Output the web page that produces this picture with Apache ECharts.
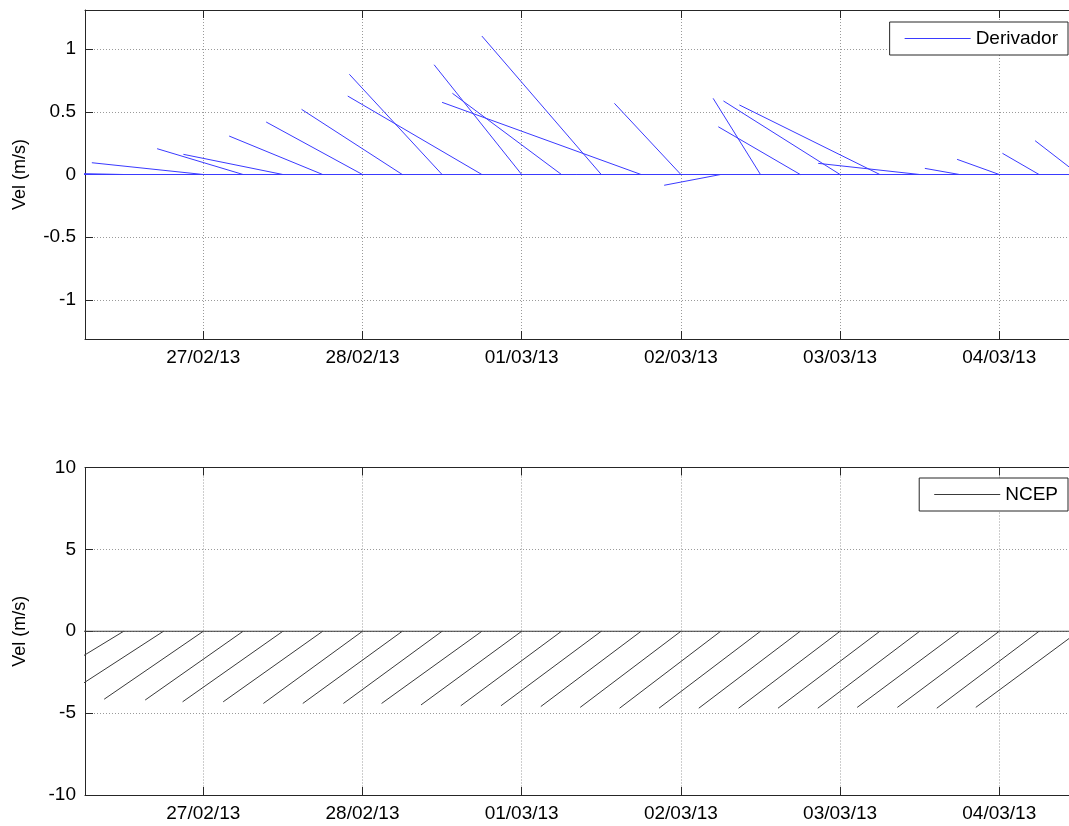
<!DOCTYPE html>
<html>
<head>
<meta charset="utf-8">
<script src="https://cdn.jsdelivr.net/npm/echarts@6/dist/echarts.min.js"></script>
<style>
html,body{margin:0;padding:0;background:#fff;}
#chart{width:1069px;height:826px;}
</style>
</head>
<body>
<div id="chart"></div>
<script>
// Sample times, hours relative to 27/02/13 00:00 (6-hourly)
const timesH = [-18,-12,-6,0,6,12,18,24,30,36,42,48,54,60,66,72,78,84,90,96,102,108,114,120,126,132];
// Drifter ("Derivador") stick components: u in plot step units (6 h), v in m/s
const derivU = [0,-1.2,0,-2.80,-2.16,-2.50,-2.35,-2.42,-2.53,-2.33,-3.37,-2.20,-2.74,-3.00,-5.00,-1.67,-1.42,-1.19,-2.06,-2.93,-3.53,-2.55,-0.87,-1.06,-0.92,-1.10];
const derivV = [0,0.008,0,0.094,0.206,0.161,0.307,0.419,0.520,0.800,0.626,0.876,0.648,1.105,0.576,0.568,-0.086,0.608,0.381,0.587,0.555,0.089,0.049,0.121,0.169,0.270];
// NCEP wind stick components
const ncepU = [-2.45,-2.50,-2.50,-2.49,-2.46,-2.52,-2.50,-2.49,-2.50,-2.48,-2.52,-2.53,-2.53,-2.52,-2.52,-2.53,-2.54,-2.55,-2.55,-2.55,-2.56,-2.56,-2.57,-2.56,-2.57,-2.59];
const ncepV = [-3.50,-3.70,-3.94,-4.15,-4.20,-4.31,-4.31,-4.41,-4.41,-4.41,-4.41,-4.50,-4.55,-4.55,-4.60,-4.65,-4.70,-4.70,-4.70,-4.70,-4.70,-4.70,-4.65,-4.65,-4.70,-4.65];
// Date ticks (days after 27/02/13 00:00) and their labels
const dateTicks = [0,1,2,3,4,5];
const dateLabels = ['27/02/13','28/02/13','01/03/13','02/03/13','03/03/13','04/03/13'];
const topYTicks = [-1,-0.5,0,0.5,1];
const botYTicks = [-10,-5,0,5,10];

const stepDays = 0.25;
// visible part of the time axis (the right side of the original figure is cropped)
const xMin = -0.743, xMax = 5.438;
const FONT = '"Liberation Sans", Arial, Helvetica, sans-serif';
const FS = 19;

function sticks(u, v) {
  const d = [];
  const t0 = timesH[0] / 24, t1 = timesH[timesH.length - 1] / 24;
  d.push([t0, 0], [t1, 0], ['-', '-']);
  for (let i = 0; i < timesH.length; i++) {
    const t = timesH[i] / 24;
    d.push([t, 0], [t + u[i] * stepDays, v[i]], ['-', '-']);
  }
  return d;
}

const chart = echarts.init(document.getElementById('chart'), null, {renderer: 'canvas'});

const gridLine = {show: true, lineStyle: {color: '#9a9a9a', type: [1, 2], width: 1}};
const axisLineStyle = {show: true, onZero: false, lineStyle: {color: '#262626', width: 1}};

function xAxisFor(gi, withLabels) {
  return {
    type: 'value', gridIndex: gi, min: xMin, max: xMax,
    position: withLabels ? 'bottom' : 'top',
    axisLine: axisLineStyle,
    axisTick: {show: true, inside: true, length: 8, customValues: dateTicks, lineStyle: {color: '#262626'}},
    axisLabel: withLabels ? {
      show: true, customValues: dateTicks, margin: 9,
      formatter: (val) => { const i = dateTicks.indexOf(Math.round(val)); return i >= 0 ? dateLabels[i] : ''; },
      color: '#000', fontFamily: FONT, fontSize: FS
    } : {show: false},
    splitLine: withLabels ? gridLine : {show: false}
  };
}
function yAxisFor(gi, min, max, ticks) {
  return {
    type: 'value', gridIndex: gi, min: min, max: max, position: 'left',
    name: 'Vel (m/s)', nameLocation: 'middle', nameGap: 56, nameRotate: 90,
    nameTextStyle: {color: '#000', fontFamily: FONT, fontSize: 18},
    axisLine: axisLineStyle,
    axisTick: {show: true, inside: true, length: 8, customValues: ticks, lineStyle: {color: '#262626'}},
    axisLabel: {show: true, customValues: ticks, margin: 9, color: '#000', fontFamily: FONT, fontSize: FS},
    splitLine: gridLine
  };
}

const legendBase = {
  orient: 'vertical', right: 1, padding: [7, 10, 7, 15],
  itemWidth: 66, itemHeight: 1, icon: 'rect',
  backgroundColor: '#fff', borderColor: '#262626', borderWidth: 1, borderRadius: 0,
  textStyle: {color: '#000', fontFamily: FONT, fontSize: 19}
};

chart.setOption({
  animation: false,
  backgroundColor: '#fff',
  grid: [
    {left: 85, top: 10, right: 0, height: 329, show: false},
    {left: 85, top: 467.5, right: 0, height: 327.5, show: false}
  ],
  xAxis: [xAxisFor(0, true), xAxisFor(1, true), xAxisFor(0, false), xAxisFor(1, false)],
  yAxis: [yAxisFor(0, -1.313, 1.313, topYTicks), yAxisFor(1, -10, 10, botYTicks)],
  legend: [
    Object.assign({}, legendBase, {data: ['Derivador'], top: 22}),
    Object.assign({}, legendBase, {data: ['NCEP'], top: 478})
  ],
  series: [
    {
      name: 'Derivador', type: 'line', xAxisIndex: 0, yAxisIndex: 0,
      data: sticks(derivU, derivV), symbol: 'none', showSymbol: false,
      connectNulls: false, clip: true,
      lineStyle: {color: '#3a3aff', width: 1}, itemStyle: {color: '#3a3aff'}
    },
    {
      name: 'NCEP', type: 'line', xAxisIndex: 1, yAxisIndex: 1,
      data: sticks(ncepU, ncepV), symbol: 'none', showSymbol: false,
      connectNulls: false, clip: true,
      lineStyle: {color: '#3a3a3a', width: 1}, itemStyle: {color: '#3a3a3a'}
    }
  ]
});
</script>
</body>
</html>
